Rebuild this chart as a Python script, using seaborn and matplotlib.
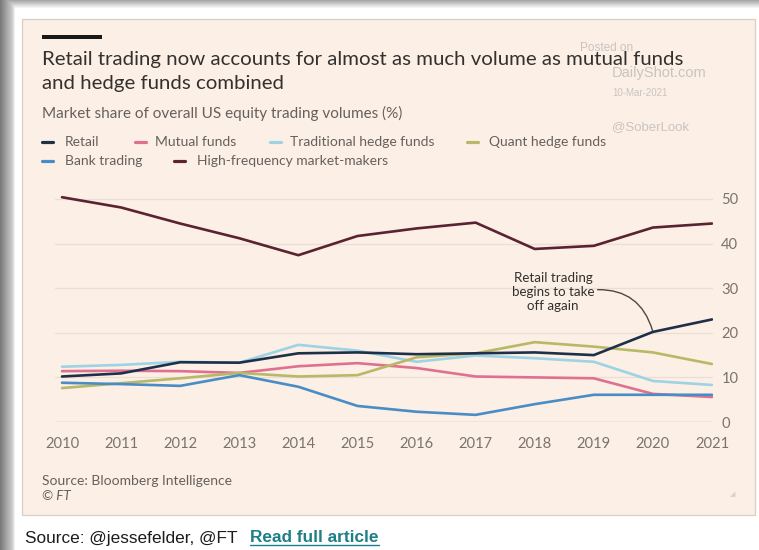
import numpy as np
import pandas as pd
import matplotlib
matplotlib.use("Agg")
import matplotlib.pyplot as plt
from matplotlib.lines import Line2D
from matplotlib.patches import Rectangle
import seaborn as sns

# Market share of overall US equity trading volumes (%)
years = list(range(2010, 2022))
retail = [10.2, 10.9, 13.4, 13.3, 15.4, 15.6, 15.2, 15.4, 15.6, 15.0, 20.2, 23.0]
mutual_funds = [11.4, 11.5, 11.4, 11.0, 12.5, 13.2, 12.1, 10.2, 10.0, 9.8, 6.3, 5.6]
traditional_hedge = [12.4, 12.8, 13.5, 13.3, 17.3, 16.0, 13.5, 14.9, 14.3, 13.5, 9.2, 8.3]
quant_hedge = [7.6, 8.7, 9.8, 11.0, 10.2, 10.5, 14.5, 15.4, 17.9, 16.9, 15.6, 13.0]
bank_trading = [8.8, 8.5, 8.1, 10.5, 7.9, 3.6, 2.3, 1.6, 4.0, 6.1, 6.1, 6.1]
hft_market_makers = [50.4, 48.1, 44.5, 41.2, 37.4, 41.7, 43.4, 44.7, 38.8, 39.5, 43.6, 44.5]

series_names = ["Retail", "Mutual funds", "Traditional hedge funds",
                "Quant hedge funds", "Bank trading", "High-frequency market-makers"]
series_values = [retail, mutual_funds, traditional_hedge, quant_hedge,
                 bank_trading, hft_market_makers]
series_colors = ["#1e3049", "#df7190", "#9dd3e5", "#b9b866", "#4a8cc6", "#5b2231"]
y_ticks = [0, 10, 20, 30, 40, 50]

df = pd.DataFrame({
    "year": np.tile(years, len(series_names)),
    "share": np.concatenate(series_values),
    "series": np.repeat(series_names, len(years)),
})

PEACH = "#fcefe5"
INK = "#33302e"
GREY = "#66605c"
W, H = 759, 550

sns.set_theme(style="white")
plt.rcParams["font.family"] = ["Lato", "DejaVu Sans"]

fig = plt.figure(figsize=(W / 100, H / 100), dpi=100, facecolor="white")


def fx(x):
    return x / W


def fy(y):
    return 1 - y / H


# page background with a soft window shadow along the top and left edges
bg = fig.add_axes([0, 0, 1, 1], zorder=-10)
img = np.ones((H, W, 3))
for i, v in enumerate(np.linspace(0.66, 1.0, 9)):
    img[i, :, :] = np.minimum(img[i, :, :], v)
for j, v in enumerate(np.concatenate([np.linspace(0.48, 0.78, 12), np.linspace(0.82, 1.0, 4)])):
    img[:, j, :] = np.minimum(img[:, j, :], v)
bg.imshow(img, aspect="auto", extent=(0, W, H, 0), interpolation="bilinear")
bg.add_patch(Rectangle((22, 19), 733, 496, facecolor=PEACH, edgecolor="#d8cfc7", lw=0.9))
bg.add_patch(Rectangle((42, 35), 60, 3.5, facecolor="#1a1817", edgecolor="none"))
bg.set_xlim(0, W)
bg.set_ylim(H, 0)
bg.axis("off")

# chart area
y_top = 52
px_per_unit = (422 - 199) / 50
ax_top_px = 422 - y_top * px_per_unit
ax = fig.add_axes([fx(55), fy(422), (713 - 55) / W, (422 - ax_top_px) / H])
ax.set_facecolor("none")

sns.lineplot(data=df, x="year", y="share", hue="series", hue_order=series_names,
             palette=series_colors, linewidth=1.9, legend=False, ax=ax)
for line, name in zip(ax.get_lines(), series_names):
    line.set_zorder(5 if name == "Retail" else 3)
    line.set_solid_joinstyle("round")

ax.set_xlim(2010 - 7 / 59.09, 2021 + 1 / 59.09)
ax.set_ylim(0, y_top)
ax.set_xticks(years)
ax.set_xticklabels([str(y) for y in years])
ax.set_yticks(y_ticks)
ax.yaxis.tick_right()
ax.grid(axis="y", color="#ebdfd5", lw=0.9)
ax.axhline(0, color="#d3c9c0", lw=1.0, zorder=1)
for s in ax.spines.values():
    s.set_visible(False)
ax.tick_params(axis="x", length=8, width=0.8, color="#dcd2c9", pad=2.5,
               labelsize=10.6, labelcolor="#7a736e")
ax.tick_params(axis="y", length=0, pad=6, labelsize=10.6, labelcolor="#7a736e")
ax.set_xlabel("")
ax.set_ylabel("")

ax.annotate("Retail trading\nbegins to take\noff again",
            xy=(2020, retail[10]), xytext=(2018.31, 29.2),
            ha="center", va="center", fontsize=9.6, color=INK, linespacing=1.2,
            arrowprops=dict(arrowstyle="-", connectionstyle="arc3,rad=-0.4",
                            color="#4d4845", lw=1.0, shrinkA=0, shrinkB=1,
                            relpos=(1.0, 0.55)),
            zorder=6)

# headline and subtitle
fig.text(fx(42), fy(60), "Retail trading now accounts for almost as much volume as mutual funds",
         va="center", fontsize=14.7, color=INK)
fig.text(fx(42), fy(84), "and hedge funds combined", va="center", fontsize=14.7, color=INK)
fig.text(fx(42), fy(113), "Market share of overall US equity trading volumes (%)",
         va="center", fontsize=11, color=GREY)

# key
key_layout = [(42, 65, 142), (135, 155, 142), (270, 290, 142), (467, 489, 142),
              (42, 65, 161), (174, 197, 161)]
for (hx, tx, ty), name, color in zip(key_layout, series_names, series_colors):
    fig.add_artist(Line2D([fx(hx), fx(hx + 11)], [fy(ty), fy(ty)], color=color,
                          lw=2.3, transform=fig.transFigure))
    fig.text(fx(tx), fy(ty), name, va="center", fontsize=10, color=GREY)

# watermark
wm = "#c9c4c1"
wm_font = ["Liberation Sans", "DejaVu Sans"]
fig.text(fx(580), fy(48), "Posted on", va="center", fontsize=8.5, color=wm, family=wm_font)
fig.text(fx(612), fy(73), "DailyShot.com", va="center", fontsize=10.5, color=wm, family=wm_font)
fig.text(fx(612), fy(93), "10-Mar-2021", va="center", fontsize=7, color=wm, family=wm_font)
fig.text(fx(612), fy(127), "@SoberLook", va="center", fontsize=9.5, color=wm, family=wm_font)

# footer inside the card
fig.text(fx(42), fy(481), "Source: Bloomberg Intelligence", va="center", fontsize=10, color=GREY)
fig.text(fx(42), fy(496), "\u00a9 FT", va="center", fontsize=9.6, color=GREY, style="italic")
fig.text(fx(733), fy(494), "\u25e2", va="center", ha="center", fontsize=5, color="#d9cfc6",
         family=["DejaVu Sans"])

# page caption below the card
page_font = ["Liberation Sans", "DejaVu Sans"]
fig.text(fx(25), fy(538), "Source: @jessefelder, @FT", va="center", fontsize=12.4,
         color="#1c1c1c", family=page_font)
link = fig.text(fx(250), fy(538), "Read full article", va="center", fontsize=12.4,
                color="#1f7f88", weight="bold", family=page_font)
fig.canvas.draw()
bb = link.get_window_extent()
fig.add_artist(Line2D([bb.x0 / W, bb.x1 / W], [(bb.y0 + 1) / H, (bb.y0 + 1) / H],
                      color="#1f7f88", lw=1.0, transform=fig.transFigure))

fig.savefig("out.png", dpi=100, facecolor="white")
